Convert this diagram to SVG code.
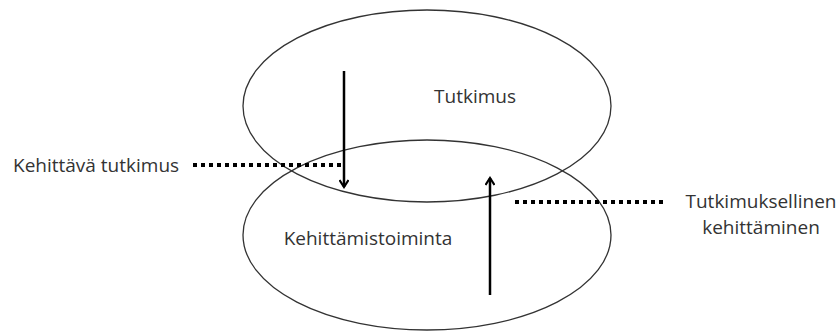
<svg xmlns="http://www.w3.org/2000/svg" width="839" height="332" viewBox="0 0 839 332">
<style>
.e{fill:none;stroke:#333;stroke-width:1.3}
.t{font-family:"Open Sans","Noto Sans",sans-serif;font-size:19px;fill:#333}
.dot{fill:none;stroke:#000;stroke-width:4;stroke-dasharray:4 4}
.arr{fill:none;stroke:#000;stroke-width:2.5}
</style>
<defs>
<marker id="ah" viewBox="0 0 10 10" refX="8" refY="5" markerWidth="10" markerHeight="10" markerUnits="userSpaceOnUse" orient="auto">
<path d="M1,0.5 L8,5 L1,9.5" fill="none" stroke="#000" stroke-width="2.2"/>
</marker>
</defs>
<rect width="839" height="332" fill="#fff"/>
<g id="tutkimus">
<ellipse class="e" cx="427" cy="106" rx="184" ry="96"/>
<text class="t" x="475" y="103" text-anchor="middle">Tutkimus</text>
</g>
<g id="kehittamistoiminta">
<ellipse class="e" cx="427" cy="235" rx="184" ry="95"/>
<text class="t" x="368" y="245" text-anchor="middle">Kehittämistoiminta</text>
</g>
<g id="kehittava-tutkimus">
<text class="t" x="13" y="172">Kehittävä tutkimus</text>
</g>
<g id="tutkimuksellinen-kehittaminen">
<text class="t" x="761" y="208" text-anchor="middle">Tutkimuksellinen</text>
<text class="t" x="761" y="234" text-anchor="middle">kehittäminen</text>
</g>
<g id="connectors">
<line class="dot" x1="193" y1="165" x2="343" y2="165"/>
<line class="dot" x1="515" y1="202" x2="665" y2="202"/>
<line class="arr" x1="344" y1="71" x2="344" y2="187" marker-end="url(#ah)"/>
<line class="arr" x1="490" y1="295" x2="490" y2="178" marker-end="url(#ah)"/>
</g>
</svg>
